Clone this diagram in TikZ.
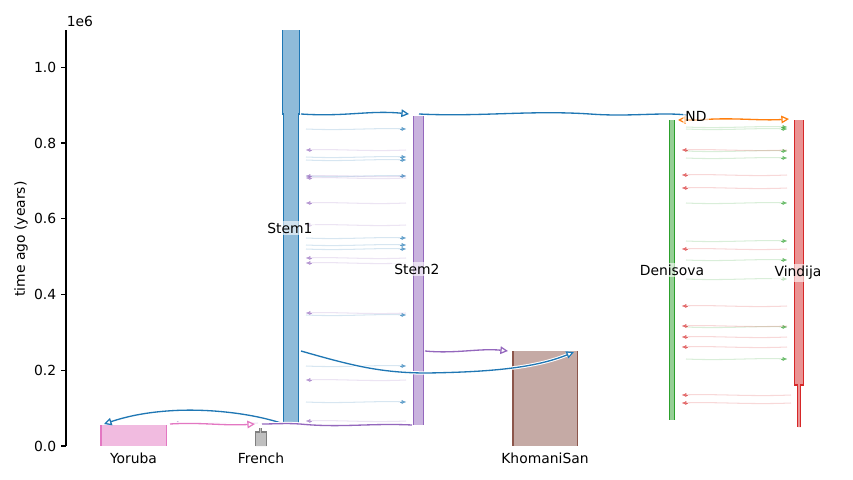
\documentclass[tikz,border=0pt]{standalone}
\usepackage{fontspec}
\setmainfont{DejaVu Sans}
\usetikzlibrary{arrows.meta,calc}
\definecolor{cblue}{HTML}{1F77B4}
\definecolor{corange}{HTML}{FF7F0E}
\definecolor{cgreen}{HTML}{2CA02C}
\definecolor{cred}{HTML}{D62728}
\definecolor{cpurple}{HTML}{9467BD}
\definecolor{cbrown}{HTML}{8C564B}
\definecolor{cpink}{HTML}{E377C2}
\definecolor{cgray}{HTML}{7F7F7F}
\tikzset{
  popfill/.style={fill=#1!50, draw=none},
  popedge/.style={draw=#1, line width=0.8pt},
  anc/.style={draw=#1, line width=0.95pt, preaction={draw=white, line width=2.4pt}},
  anchead/.style={-{Triangle[open,fill=white,length=5.5pt,width=5.5pt,line width=0.9pt]}},
  faint/.style={draw=#1, opacity=0.18, line width=0.75pt},
  fainthead/.style={draw=#1, fill=#1, opacity=0.6, line width=0.3pt, -{Latex[length=3.2pt,width=3pt]}},
  poplabel/.style={inner sep=1.5pt, fill=white, fill opacity=0.6, text opacity=1},
  ticklab/.style={anchor=east, inner sep=0pt},
  axisline/.style={line width=0.8pt, draw=black},
}
\newcommand{\migr}[4]{%
  \coordinate (mS) at (#2,#1);
  \coordinate (mE) at (#3,#1);
  \draw[faint=#4] (mS) .. controls ($(mS)!0.4!(mE)+(0,1.8)$) and ($(mS)!0.7!(mE)+(0,-1.5)$) .. (mE);
  \draw[fainthead=#4] ($(mE)!4pt!(mS)$) -- (mE);
}
\begin{document}
\begin{tikzpicture}[x=0.72pt,y=-0.72pt, font=\fontsize{10}{12}\selectfont]
\useasboundingbox (0,0) rectangle (853,480);

% axis
\draw[axisline] (66,30) -- (66,446);
\foreach \t/\l [count=\i] in {0/0.0,0.2/0.2,0.4/0.4,0.6/0.6,0.8/0.8,1.0/1.0} {
  \draw[axisline] (61.1,{446-378.7*\t}) -- (66,{446-378.7*\t});
  \node[ticklab] (tk\i) at (56.5,{446-378.7*\t}) {\l};
}
\node[anchor=west, inner sep=0pt] (exp) at (66.5,21) {1e6};
\node[rotate=90] (ylab) at (21,239) {time ago (years)};

% population boxes (fill + side edges)
% Stem1
\fill[popfill=cblue] (282.5,30) -- (282.5,114) -- (283.5,114) -- (283.5,423) -- (298.5,423) -- (298.5,114) -- (299.5,114) -- (299.5,30) -- cycle;
\draw[popedge=cblue] (282.5,30) -- (282.5,114) -- (283.5,114) -- (283.5,423);
\draw[popedge=cblue] (299.5,30) -- (299.5,114) -- (298.5,114) -- (298.5,423);
% Stem2
\fill[popfill=cpurple] (413.5,116) rectangle (423.5,425);
\draw[popedge=cpurple] (413.5,116) -- (413.5,425);
\draw[popedge=cpurple] (423.5,116) -- (423.5,425);
% KhomaniSan
\fill[popfill=cbrown] (513,351) rectangle (577.5,446);
\draw[popedge=cbrown] (513,351) -- (513,446);
\draw[popedge=cbrown] (577.5,351) -- (577.5,446);
% Yoruba
\fill[popfill=cpink] (101,425) rectangle (166.5,446);
\draw[popedge=cpink] (101,425) -- (101,446);
\draw[popedge=cpink] (166.5,425) -- (166.5,446);
% French
\fill[popfill=cgray] (255.5,446) -- (255.5,432) -- (259.8,432) -- (259.8,428) -- (261.6,428) -- (261.6,432) -- (266.5,432) -- (266.5,446) -- cycle;
\draw[popedge=cgray] (255.5,446) -- (255.5,432) -- (259.8,432) -- (259.8,428);
\draw[popedge=cgray] (266.5,446) -- (266.5,432) -- (261.6,432) -- (261.6,428);
% Denisova
\fill[popfill=cgreen] (669.5,120) rectangle (674.5,420);
\draw[popedge=cgreen] (669.5,120) -- (669.5,420);
\draw[popedge=cgreen] (674.5,120) -- (674.5,420);
% Vindija
\fill[popfill=cred] (794.5,120) -- (794.5,385) -- (797.8,385) -- (797.8,427) -- (800.8,427) -- (800.8,385) -- (803.5,385) -- (803.5,120) -- cycle;
\draw[popedge=cred] (794.5,120) -- (794.5,385) -- (797.8,385) -- (797.8,427);
\draw[popedge=cred] (803.5,120) -- (803.5,385) -- (800.8,385) -- (800.8,427);

% faint migrations Stem1 <-> Stem2
\foreach \yy in {129,157,160,176,238,245,249,315,366,402} {\migr{\yy}{306}{406}{cblue}}
\foreach \yy in {150,176,178,203,225,258,263,313,380,421} {\migr{\yy}{406}{306}{cpurple}}
% faint migrations Denisova <-> Vindija
\foreach \yy in {127,129,151,158,203,241,260,279,327,359} {\migr{\yy}{686}{787}{cgreen}}
\foreach \yy in {150,175,188,249,306,326,337,347} {\migr{\yy}{787}{682}{cred}}
\foreach \yy in {395,403} {\migr{\yy}{791}{682}{cred}}
\migr{423}{258}{174}{cpurple}

% ancestry connectors
\coordinate (s1top) at (301,114);
\coordinate (s2in) at (409,114);
\coordinate (s2out) at (419,114);
\coordinate (ndin) at (687,115);
\coordinate (ndc) at (699,120);
\coordinate (denin) at (678,120);
\coordinate (vinin) at (789,119);
\coordinate (s1bot) at (281,423);
\coordinate (yorin) at (104,424);
\coordinate (yorout) at (170,424);
\coordinate (frin) at (255,424);
\coordinate (s2bot) at (412,425);
\coordinate (frtop) at (262,424);
\coordinate (s2mid) at (425,351);
\coordinate (khin) at (508,351);
\coordinate (s1mid) at (301,351);
\coordinate (khin2) at (574,352);

\draw[anc=cblue, anchead] (s1top) .. controls (345,117) and (370,110) .. (s2in);
\draw[anc=cblue] (s2out) .. controls (480,117) and (530,110) .. (590,114) .. controls (630,117) and (660,112) .. (ndin);
\draw[anc=corange, anchead] (ndc) -- (denin);
\draw[anc=corange, anchead] (ndc) .. controls (730,117) and (760,121) .. (vinin);
\draw[anc=cblue, anchead] (s1bot) .. controls (250,413) and (205,408) .. (167,411) .. controls (140,413) and (122,418) .. (yorin);
\draw[anc=cpurple] (s2bot) .. controls (370,423) and (340,428) .. (300,424) .. controls (285,423) and (275,424) .. (frtop);
\draw[anc=cpink, anchead] (yorout) .. controls (200,422) and (225,426) .. (frin);
\draw[anc=cpurple, anchead] (s2mid) .. controls (455,354) and (480,348) .. (khin);
\draw[anc=cblue, anchead] (s1mid) .. controls (350,365) and (380,373) .. (427,373) .. controls (490,372) and (535,368) .. (khin2);

% labels
\node[poplabel] (lstem1) at (290,228) {Stem1};
\node[poplabel] (lstem2) at (417,269) {Stem2};
\node[poplabel] (lden) at (672,270) {Denisova};
\node[poplabel] (lvin) at (798,273) {Vindija};
\node[poplabel] (lnd) at (696,116) {ND};
\node (lyor) at (133.5,458) {Yoruba};
\node (lfr) at (261,458) {French};
\node (lkh) at (545,458) {KhomaniSan};
\end{tikzpicture}
\end{document}
